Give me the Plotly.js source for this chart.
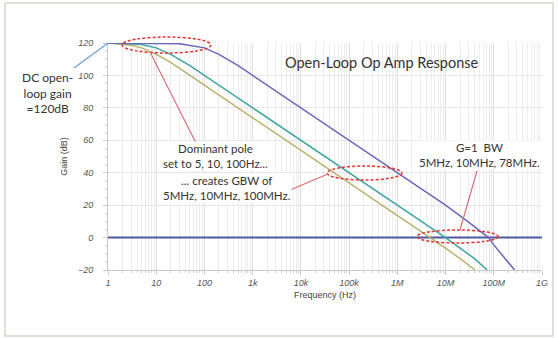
<!DOCTYPE html>
<html>
<head>
<meta charset="utf-8">
<script src="https://cdn.plot.ly/plotly-3.0.1.min.js"></script>
<style>html,body{margin:0;padding:0;background:#fff;}#chart{width:558px;height:338px;}</style>
</head>
<body>
<div id="chart"></div>
<script>
// ---- data ----
const freqYellow = [1, 2, 3, 5, 10, 20, 50, 100, 1e3, 1e4, 1e5, 1e6, 5e6, 1e7, 2e7, 4.1e7];
const gainYellow = [120, 119.4, 118.6, 117, 113, 108, 100, 94, 74, 54, 34, 14, 0, -6.5, -13, -20];

const freqTeal = [1, 3, 5, 10, 20, 50, 100, 1e3, 1e4, 1e5, 1e6, 1e7, 2e7, 4e7, 7.3e7];
const gainTeal = [120, 119.6, 119, 117, 113, 106, 100, 80, 60, 40, 20, 0, -6.5, -13, -20];

const freqPurple = [1, 10, 30, 100, 200, 500, 1e3, 1e4, 1e5, 1e6, 1e7, 3e7, 5e7, 7.8e7, 1e8, 1.5e8, 2e8, 2.7e8];
const gainPurple = [120, 120, 119.6, 117, 113, 106, 100, 80, 60, 40, 20, 9.5, 4.6, 0, -4.5, -11, -15.5, -20];

const freqZero = [1, 1e9];
const gainZero = [0, 0];

const xTickVals = [1, 10, 100, 1e3, 1e4, 1e5, 1e6, 1e7, 1e8, 1e9];
const xTickText = ['1', '10', '100', '1k', '10k', '100k', '1M', '10M', '100M', '1G'];
const yTickVals = [-20, 0, 20, 40, 60, 80, 100, 120];

// ---- layout helpers (pixel -> paper) ----
const L = 108, R = 16, T = 43, B = 68, W = 558, H = 338;
const PW = W - L - R, PH = H - T - B;
const px = v => (v - L) / PW;
const py = v => (H - B - v) / PH;

const minorX = [];
for (let d = 0; d < 9; d++) for (let k = 2; k <= 9; k++) minorX.push(k * Math.pow(10, d));

const tickFont = {family: 'Liberation Sans, Arial, sans-serif', size: 9, color: '#555', style: 'italic'};
const noteFont = {family: 'Lato, Open Sans, sans-serif', size: 11.5, color: '#333'};

const traces = [
  {x: freqZero, y: gainZero, mode: 'lines', line: {color: '#4d5b9c', width: 2}, hoverinfo: 'skip'},
  {x: freqYellow, y: gainYellow, mode: 'lines', line: {color: '#b8b26c', width: 1.5}},
  {x: freqTeal, y: gainTeal, mode: 'lines', line: {color: '#3fa5a2', width: 1.5}},
  {x: freqPurple, y: gainPurple, mode: 'lines', line: {color: '#6b66b8', width: 1.5}}
];

const redDash = {color: '#e03535', width: 1.5, dash: '3px,2px'};
const pink = {color: '#d8707c', width: 1.2};

const shapes = [
  // outer frame
  {type: 'rect', xref: 'paper', yref: 'paper', x0: px(5), x1: px(553), y0: py(336), y1: py(3),
   line: {color: '#d9d5cc', width: 1.5}, layer: 'below'},
  // ellipses
  {type: 'circle', xref: 'paper', yref: 'paper', x0: px(122), x1: px(211), y0: py(53), y1: py(37), line: redDash},
  {type: 'circle', xref: 'paper', yref: 'paper', x0: px(327), x1: px(402), y0: py(180), y1: py(166), line: redDash},
  {type: 'circle', xref: 'paper', yref: 'paper', x0: px(417), x1: px(498), y0: py(243), y1: py(230), line: redDash},
  // pointer lines
  {type: 'line', xref: 'paper', yref: 'paper', x0: px(150), y0: py(52), x1: px(196), y1: py(143), line: pink},
  {type: 'line', xref: 'paper', yref: 'paper', x0: px(290), y0: py(190), x1: px(328), y1: py(174), line: pink},
  {type: 'line', xref: 'paper', yref: 'paper', x0: px(477), y0: py(171), x1: px(460), y1: py(230), line: pink},
  {type: 'line', xref: 'paper', yref: 'paper', x0: px(74), y0: py(68), x1: px(108), y1: py(43), line: {color: '#6f9bd0', width: 1.2}}
];

const ann = (x, y, text, extra) => Object.assign({xref: 'paper', yref: 'paper', x: px(x), y: py(y), text: text,
  showarrow: false, font: noteFont, xanchor: 'center', yanchor: 'middle', align: 'center', borderpad: 0}, extra || {});

const annotations = [
  ann(382, 62, 'Open-Loop Op Amp Response', {font: {family: 'Lato, Open Sans, sans-serif', size: 14.5, color: '#333'}}),
  ann(48, 93, 'DC open-<br>loop gain<br>=120dB', {font: {family: 'Lato, Open Sans, sans-serif', size: 12, color: '#333'}, bgcolor: '#fff'}),
  ann(215, 156, 'Dominant pole<br>set to 5, 10, 100Hz...', {bgcolor: '#fff'}),
  ann(227, 188, '... creates GBW of<br>5MHz, 10MHz, 100MHz.', {bgcolor: '#fff'}),
  ann(479, 155, 'G=1  BW<br>5MHz, 10MHz, 78MHz.', {bgcolor: '#fff'})
];

const layout = {
  width: W, height: H,
  margin: {l: L, r: R, t: T, b: B, pad: 0},
  paper_bgcolor: '#fff', plot_bgcolor: '#fff',
  showlegend: false,
  xaxis: {
    type: 'log', range: [0, 9],
    tickmode: 'array', tickvals: xTickVals, ticktext: xTickText,
    tickfont: tickFont, showgrid: true, gridcolor: '#dedede', gridwidth: 1,
    showline: true, linecolor: '#c8c8c8', ticks: 'outside', ticklen: 4, tickcolor: '#c8c8c8',
    minor: {tickmode: 'array', tickvals: minorX, showgrid: true, gridcolor: '#ededed', ticks: 'outside', ticklen: 2, tickcolor: '#d0d0d0'},
    zeroline: false,
    title: {text: 'Frequency (Hz)', font: {family: 'Liberation Sans, Arial, sans-serif', size: 9, color: '#444'}, standoff: 4}
  },
  yaxis: {
    range: [-20, 120], tickmode: 'array', tickvals: yTickVals,
    tickfont: tickFont, showgrid: true, gridcolor: '#e6e6e6',
    showline: true, linecolor: '#c8c8c8', ticks: 'outside', ticklen: 4, tickcolor: '#c8c8c8',
    minor: {dtick: 5, ticks: 'outside', ticklen: 2, tickcolor: '#d0d0d0', showgrid: false},
    zeroline: false, ticklabelstandoff: 8,
    title: {text: 'Gain (dB)', font: {family: 'Liberation Sans, Arial, sans-serif', size: 9, color: '#444'}, standoff: 8}
  },
  shapes: shapes,
  annotations: annotations
};

Plotly.newPlot('chart', traces, layout, {displayModeBar: false, staticPlot: true});
</script>
</body>
</html>
